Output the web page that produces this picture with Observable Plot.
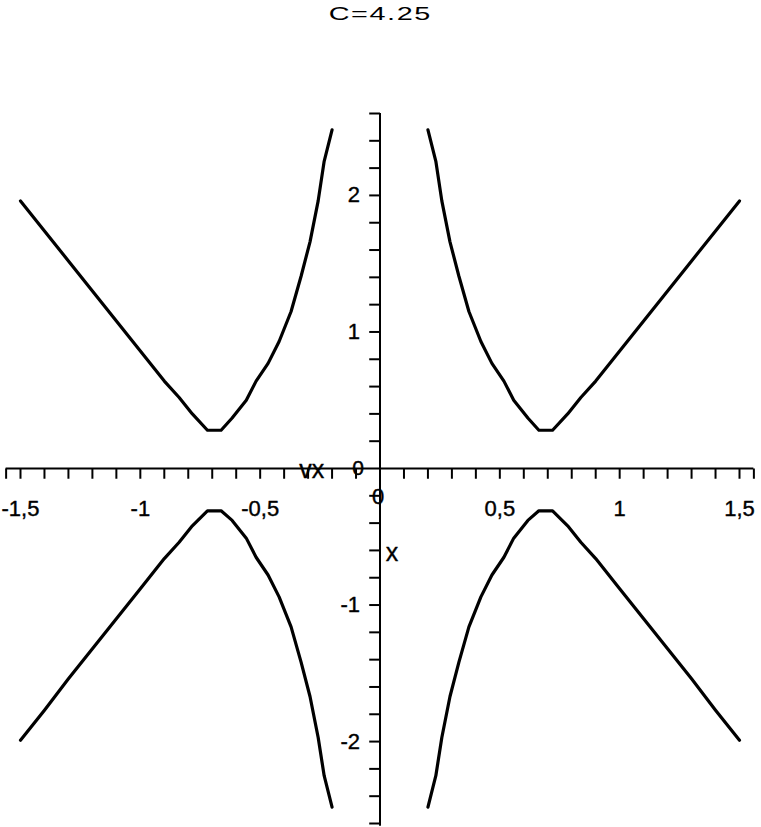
<!DOCTYPE html>
<html>
<head>
<meta charset="utf-8">
<script src="https://cdn.jsdelivr.net/npm/d3@7"></script>
<script src="https://cdn.jsdelivr.net/npm/@observablehq/plot@0.6"></script>
<style>
  html, body { margin: 0; padding: 0; background: #fff; }
  #title { height: 30px; text-align: center; font-family: "Liberation Sans", Arial, sans-serif; font-size: 18px; line-height: 28px; color: #000; }
  #title span { display: inline-block; transform: scaleX(1.6); letter-spacing: 1px; }
  svg { overflow: visible; }
</style>
</head>
<body>
<div id="title"><span>C=4.25</span></div>
<div id="chart"></div>
<script>
const title = "C=4.25";

// Branch: upper right (x > 0, vx > 0)
const urX  = [0.20, 0.233, 0.258, 0.292, 0.329, 0.371, 0.421, 0.467, 0.517, 0.558, 0.617, 0.663, 0.72, 0.783, 0.838, 0.90, 1.00, 1.10, 1.20, 1.30, 1.40, 1.50];
const urVx = [2.48, 2.25, 1.96, 1.66, 1.41, 1.15, 0.93, 0.77, 0.64, 0.50, 0.37, 0.28, 0.28, 0.40, 0.52, 0.64, 0.86, 1.08, 1.30, 1.52, 1.74, 1.96];
// Branch: upper left (x < 0, vx > 0)
const ulX  = [-0.20, -0.233, -0.258, -0.292, -0.329, -0.371, -0.421, -0.467, -0.517, -0.558, -0.617, -0.663, -0.72, -0.783, -0.838, -0.90, -1.00, -1.10, -1.20, -1.30, -1.40, -1.50];
const ulVx = [2.48, 2.25, 1.96, 1.66, 1.41, 1.15, 0.93, 0.77, 0.64, 0.50, 0.37, 0.28, 0.28, 0.40, 0.52, 0.64, 0.86, 1.08, 1.30, 1.52, 1.74, 1.96];
// Branch: lower right (x > 0, vx < 0)
const lrX  = [0.20, 0.233, 0.258, 0.292, 0.329, 0.371, 0.421, 0.467, 0.517, 0.558, 0.617, 0.663, 0.72, 0.783, 0.838, 0.90, 1.00, 1.10, 1.20, 1.30, 1.40, 1.50];
const lrVx = [-2.48, -2.25, -1.97, -1.67, -1.42, -1.16, -0.94, -0.78, -0.65, -0.51, -0.38, -0.31, -0.31, -0.42, -0.54, -0.66, -0.88, -1.10, -1.32, -1.54, -1.77, -1.99];
// Branch: lower left (x < 0, vx < 0)
const llX  = [-0.20, -0.233, -0.258, -0.292, -0.329, -0.371, -0.421, -0.467, -0.517, -0.558, -0.617, -0.663, -0.72, -0.783, -0.838, -0.90, -1.00, -1.10, -1.20, -1.30, -1.40, -1.50];
const llVx = [-2.48, -2.25, -1.97, -1.67, -1.42, -1.16, -0.94, -0.78, -0.65, -0.51, -0.38, -0.31, -0.31, -0.42, -0.54, -0.66, -0.88, -1.10, -1.32, -1.54, -1.77, -1.99];

const xTicks = [-1.56, -1.5, -1.4, -1.3, -1.2, -1.1, -1.0, -0.9, -0.8, -0.7, -0.6, -0.5, -0.4, -0.3, -0.2, -0.1, 0.1, 0.2, 0.3, 0.4, 0.5, 0.6, 0.7, 0.8, 0.9, 1.0, 1.1, 1.2, 1.3, 1.4, 1.5, 1.56];
const yTicks = [-2.6, -2.4, -2.2, -2.0, -1.8, -1.6, -1.4, -1.2, -1.0, -0.8, -0.6, -0.4, -0.2, 0.2, 0.4, 0.6, 0.8, 1.0, 1.2, 1.4, 1.6, 1.8, 2.0, 2.2, 2.4, 2.6];
const xLabelVals = [-1.5, -1, -0.5, 0, 0.5, 1, 1.5];
const xLabelText = ["-1,5", "-1", "-0,5", "0", "0,5", "1", "1,5"];
const yLabelVals = [2, 1, 0, -1, -2];
const yLabelText = ["2", "1", "0", "-1", "-2"];

const branches = [
  {name: "ur", x: urX, vx: urVx},
  {name: "ul", x: ulX, vx: ulVx},
  {name: "lr", x: lrX, vx: lrVx},
  {name: "ll", x: llX, vx: llVx}
];
const curve = branches.flatMap(b => b.x.map((x, i) => ({branch: b.name, x, vx: b.vx[i]})));
const xLabels = xLabelVals.map((v, i) => ({v, t: xLabelText[i]}));
const yLabels = yLabelVals.map((v, i) => ({v, t: yLabelText[i]}));

const font = "Liberation Sans, Arial, sans-serif";

const chart = Plot.plot({
  width: 761,
  height: 797,
  marginTop: 83,
  marginBottom: 4,
  marginLeft: 20,
  marginRight: 22,
  style: {fontFamily: font, background: "#fff", color: "#000"},
  x: {domain: [-1.5, 1.5], axis: null},
  y: {domain: [-2.6, 2.6], axis: null},
  marks: [
    // x axis line and ticks
    Plot.ruleY([0], {x1: -1.56, x2: 1.56, stroke: "#000", strokeWidth: 2}),
    Plot.link(xTicks, {x1: d => d, x2: d => d, y1: 0, y2: -0.075, stroke: "#000", strokeWidth: 2}),
    // y axis line and ticks
    Plot.ruleX([0], {y1: -2.62, y2: 2.6, stroke: "#000", strokeWidth: 2}),
    Plot.link(yTicks, {y1: d => d, y2: d => d, x1: 0, x2: -0.045, stroke: "#000", strokeWidth: 2}),
    // tick labels
    Plot.text(xLabels.filter(d => d.v !== 0), {x: "v", y: 0, text: "t", dy: 40, fontSize: 22, fill: "#000", stroke: "#000", strokeWidth: 0.4}),
    Plot.text(xLabels.filter(d => d.v === 0), {x: "v", y: 0, text: "t", dy: 28, dx: -2, fontSize: 22, fill: "#000", stroke: "#000", strokeWidth: 0.4}),
    Plot.text(yLabels.filter(d => d.v !== 0), {x: 0, y: "v", text: "t", dx: -20, textAnchor: "end", fontSize: 22, fill: "#000", stroke: "#000", strokeWidth: 0.4}),
    Plot.text(yLabels.filter(d => d.v === 0), {x: 0, y: "v", text: "t", dx: -16, textAnchor: "end", fontSize: 21, fill: "#000", stroke: "#000", strokeWidth: 0.4}),
    // axis names
    Plot.text(["vx"], {x: -0.285, y: 0, text: d => d, dy: 1, fontSize: 25, fill: "#000", stroke: "#000", strokeWidth: 0.4}),
    Plot.text(["x"], {x: 0.05, y: -0.62, text: d => d, fontSize: 25, fill: "#000", stroke: "#000", strokeWidth: 0.4}),
    // curves
    Plot.line(curve, {x: "x", y: "vx", z: "branch", stroke: "#000", strokeWidth: 3.2, curve: "linear"})
  ]
});
document.getElementById("chart").appendChild(chart);
</script>
</body>
</html>
